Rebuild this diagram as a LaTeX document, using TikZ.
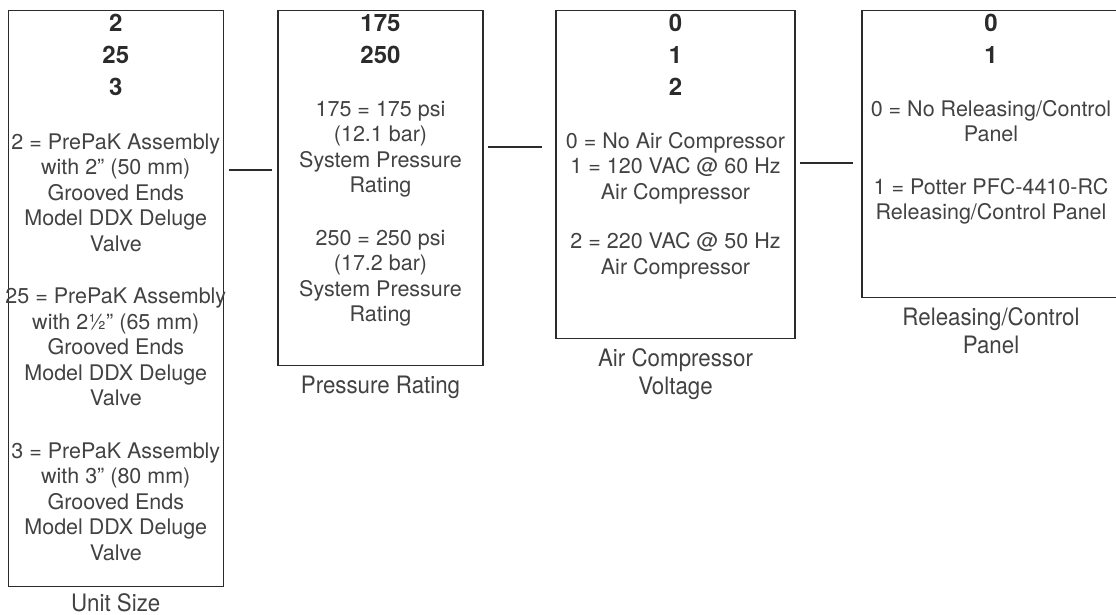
\documentclass[tikz,border=0pt]{standalone}
\usepackage{fontspec}
\setmainfont{TeX Gyre Heros}
\newfontfamily\narrowfont[FakeStretch=0.93]{TeX Gyre Heros}
\usepackage{xcolor}
\usetikzlibrary{positioning}

\definecolor{ink}{HTML}{2B2B2B}
\definecolor{body}{HTML}{424242}

\begin{document}
\begin{tikzpicture}[x=1pt, y=-1pt,
  optbox/.style={draw=ink, line width=1.3pt, inner sep=0pt, outer sep=0pt, anchor=north west},
  codes/.style={align=center, inner sep=0pt, text=ink, font={\fontsize{24}{32}\selectfont\bfseries}},
  desc/.style={align=center, inner sep=0pt, text=body, font={\fontsize{21.5}{25.5}\selectfont}},
  caption/.style={align=center, inner sep=0pt, text=body, font={\narrowfont\fontsize{24}{28}\selectfont}},
  link/.style={draw=ink, line width=1.3pt}]

\useasboundingbox (0,0) rectangle (1116,615);
\clip (0,0) rectangle (1116,615);

% -- Unit size ----------------------------------------------------------------
\node[optbox, minimum width=215pt, minimum height=576pt] (unit) at (8.3,10.7) {};
\node[codes, below=3.6pt of unit.north] (unitcode) {2\\25\\3};
\node[desc, below=37pt of unitcode] (unitdesc)
  {2 = PrePaK Assembly\\with 2” (50 mm)\\Grooved Ends\\Model DDX Deluge\\Valve\\[27pt]
   25 = PrePaK Assembly\\with 2½” (65 mm)\\Grooved Ends\\Model DDX Deluge\\Valve\\[27pt]
   3 = PrePaK Assembly\\with 3” (80 mm)\\Grooved Ends\\Model DDX Deluge\\Valve};
\node[caption, below=7pt of unit.south] (unitlabel) {Unit Size};

% -- Pressure rating ----------------------------------------------------------
\node[optbox, minimum width=205pt, minimum height=355pt] (press) at (278,10.7) {};
\node[codes, below=3.6pt of press.north] (presscode) {175\\250};
\node[desc, below=37pt of presscode] (pressdesc)
  {175 = 175 psi\\(12.1 bar)\\System Pressure\\Rating\\[27pt]
   250 = 250 psi\\(17.2 bar)\\System Pressure\\Rating};
\node[caption, below=10pt of press.south] (presslabel) {Pressure Rating};

% -- Air compressor voltage ---------------------------------------------------
\node[optbox, minimum width=239pt, minimum height=328pt] (air) at (556,10.7) {};
\node[codes, below=3.6pt of air.north] (aircode) {0\\1\\2};
\node[desc, below=36pt of aircode] (airdesc)
  {0 = No Air Compressor\\1 = 120 VAC @ 60 Hz\\Air Compressor\\[24pt]
   2 = 220 VAC @ 50 Hz\\Air Compressor};
\node[caption, below=10pt of air.south] (airlabel) {Air Compressor\\Voltage};

% -- Releasing/control panel --------------------------------------------------
\node[optbox, minimum width=258pt, minimum height=287pt] (panel) at (862,10.7) {};
\node[codes, below=3.6pt of panel.north] (panelcode) {0\\1};
\node[desc, below=36pt of panelcode] (paneldesc)
  {0 = No Releasing/Control\\Panel\\[27pt]
   1 = Potter PFC-4410-RC\\Releasing/Control Panel};
\node[caption, below=10pt of panel.south] (panellabel) {Releasing/Control\\Panel};

% -- Links between the boxes --------------------------------------------------
\coordinate (l1a) at ([shift={(6,159.3)}]unit.north east);
\coordinate (l1b) at ([shift={(-6,159.3)}]press.north west);
\coordinate (l2a) at ([shift={(5,136.3)}]press.north east);
\coordinate (l2b) at ([shift={(-14,136.3)}]air.north west);
\coordinate (l3a) at ([shift={(5,152.3)}]air.north east);
\coordinate (l3b) at ([shift={(-9,152.3)}]panel.north west);
\draw[link] (l1a) -- (l1b);
\draw[link] (l2a) -- (l2b);
\draw[link] (l3a) -- (l3b);

\end{tikzpicture}
\end{document}
